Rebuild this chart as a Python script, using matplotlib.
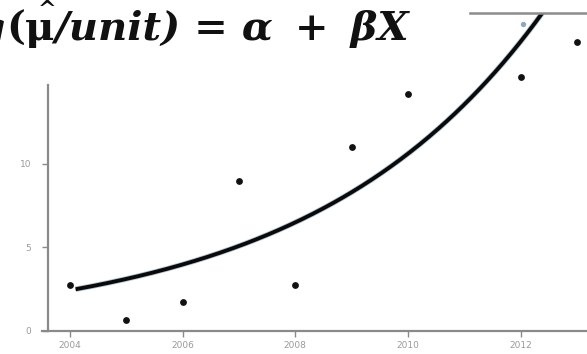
import numpy as np
import matplotlib
matplotlib.use("Agg")
import matplotlib.pyplot as plt
from matplotlib.lines import Line2D

# data
years = [2004, 2005, 2006, 2007, 2008, 2009, 2010, 2012, 2013]
counts = [2.75, 0.66, 1.74, 9.0, 2.75, 11.0, 14.2, 15.2, 17.3]
faint_year = [2012.05]
faint_count = [18.4]
# fitted model log(mu) = alpha + beta * (year - 2004)
alpha = 0.892
beta = 0.245
curve_start = 2004.1
curve_end = 2012.6
xticks = [2004, 2006, 2008, 2010, 2012]
yticks = [0, 5, 10]

W, H = 587, 354
fig = plt.figure(figsize=(W / 100, H / 100), dpi=100)
fig.patch.set_facecolor("white")

left_px, right_px = 48, 587
bottom_px, top_px = 331, 13
ax = fig.add_axes([left_px / W, (H - bottom_px) / H,
                   (right_px - left_px) / W, (bottom_px - top_px) / H])
ax.set_facecolor("none")
ax.set_xlim(2003.61, 2013.18)
ax.set_ylim(0, 19.04)

gray = "#8a8a8a"
for s in ["top", "right"]:
    ax.spines[s].set_visible(False)
ax.spines["left"].set_color(gray)
ax.spines["bottom"].set_color(gray)
ax.spines["left"].set_linewidth(1.6)
ax.spines["bottom"].set_linewidth(1.6)
ax.spines["left"].set_bounds(0, 14.7)
ax.spines["bottom"].set_bounds(2003.5, 2013.18)

ax.set_xticks(xticks)
ax.set_yticks(yticks)
ax.tick_params(axis="both", colors=gray, labelcolor="#9a9a9a", labelsize=6.5,
               direction="out", length=4, width=1.0)
ax.tick_params(axis="y", pad=8)
ax.tick_params(axis="x", pad=3)

# fitted curve
xc = np.linspace(curve_start, curve_end, 300)
yc = np.exp(alpha + beta * (xc - 2004))
ax.plot(xc, yc, color="#2f5f8f", lw=4.0, alpha=0.35, solid_capstyle="butt")
ax.plot(xc, yc, color="#0a0a0a", lw=2.8, solid_capstyle="butt")

# points
ax.scatter(years, counts, s=15, color="#111111", zorder=3, clip_on=False)
ax.scatter(faint_year, faint_count, s=8, color="#8fa6bf", zorder=3, clip_on=False)

# top gray line (slide decoration)
fig.add_artist(Line2D([470 / W, 1.0], [(H - 13) / H, (H - 13) / H],
                      transform=fig.transFigure, color="#8c8c8c", lw=1.8))

# title formula, partially cut off on the left
fs = 29
kw = dict(fontfamily="DejaVu Serif", fontweight="bold", fontsize=fs, color="#111111")
base_y = (H - 40) / H
t0 = fig.text(6 / W, base_y, "log", ha="right", va="baseline",
              fontstyle="italic", **kw)
t1 = fig.text(6 / W, base_y, "(", ha="left", va="baseline",
              fontstyle="normal", **kw)
t2 = plt.annotate("μ", xy=(1, 0), xycoords=t1, va="bottom", ha="left",
                  fontstyle="normal", annotation_clip=False, **kw)
t2h = plt.annotate("^", xy=(0.75, 0.7), xycoords=t2, va="bottom", ha="center",
                   fontstyle="normal", annotation_clip=False,
                   fontfamily="DejaVu Serif", fontweight="bold", fontsize=16,
                   color="#111111")
t3 = plt.annotate("/unit) = α \u2009+ \u2009βX", xy=(1, 0), xycoords=t2,
                  va="bottom", ha="left", fontstyle="italic",
                  annotation_clip=False, **kw)

fig.savefig("out.png", dpi=100, facecolor="white")
